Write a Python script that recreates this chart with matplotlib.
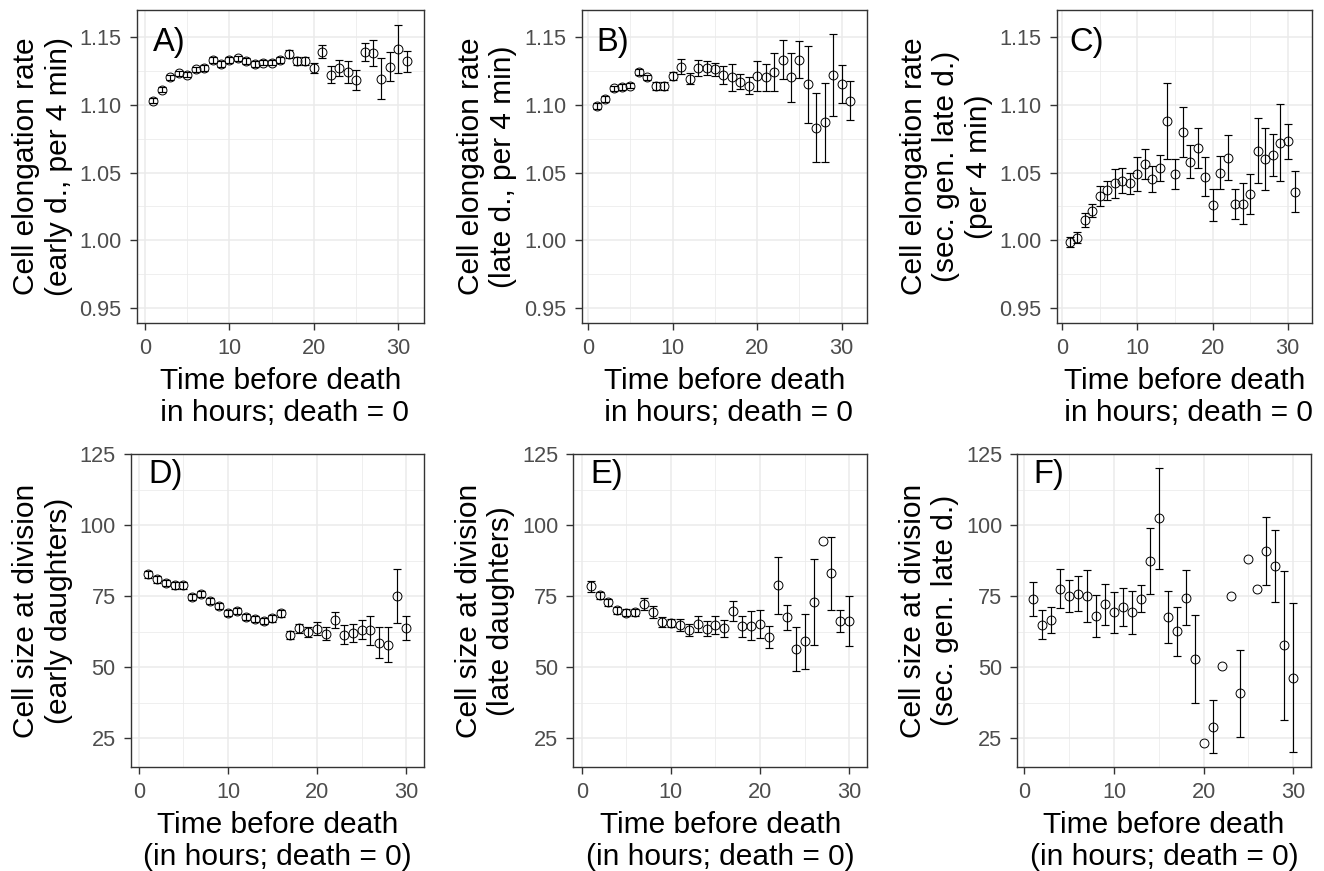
import matplotlib
matplotlib.use("Agg")
import matplotlib.pyplot as plt
from matplotlib.ticker import MultipleLocator, FormatStrFormatter

plt.rcParams["font.family"] = ["Liberation Sans", "DejaVu Sans"]

# ---- data: hours before death ----
hours_top = [1, 2, 3, 4, 5, 6, 7, 8, 9, 10, 11, 12, 13, 14, 15, 16,
             17, 18, 19, 20, 21, 22, 23, 24, 25, 26, 27, 28, 29, 30, 31]
hours_bot = [1, 2, 3, 4, 5, 6, 7, 8, 9, 10, 11, 12, 13, 14, 15,
             16, 17, 18, 19, 20, 21, 22, 23, 24, 25, 26, 27, 28, 29, 30]

# A) elongation rate, early daughters
rate_early = [1.103, 1.111, 1.120, 1.123, 1.122, 1.126, 1.127, 1.133, 1.130, 1.133,
              1.134, 1.132, 1.130, 1.131, 1.131, 1.133, 1.137, 1.132, 1.132, 1.127,
              1.139, 1.122, 1.127, 1.124, 1.118, 1.139, 1.138, 1.119, 1.128, 1.141, 1.132]
rate_early_se = [0.002, 0.002, 0.002, 0.002, 0.002, 0.002, 0.002, 0.002, 0.002, 0.002,
                 0.002, 0.002, 0.002, 0.002, 0.002, 0.002, 0.003, 0.003, 0.003, 0.004,
                 0.005, 0.0064, 0.006, 0.0078, 0.0072, 0.0067, 0.0094, 0.0152, 0.0106, 0.0176, 0.0077]

# B) elongation rate, late daughters
rate_late = [1.099, 1.104, 1.112, 1.113, 1.114, 1.124, 1.120, 1.114, 1.114, 1.121,
             1.128, 1.119, 1.127, 1.127, 1.126, 1.122, 1.120, 1.117, 1.114, 1.121,
             1.120, 1.124, 1.133, 1.120, 1.133, 1.115, 1.083, 1.087, 1.122, 1.115, 1.103]
rate_late_se = [0.002, 0.002, 0.002, 0.002, 0.002, 0.002, 0.002, 0.003, 0.003, 0.003,
                0.0055, 0.004, 0.006, 0.0055, 0.005, 0.0068, 0.0098, 0.0057, 0.006, 0.011,
                0.0098, 0.0137, 0.0144, 0.018, 0.0137, 0.0285, 0.0254, 0.029, 0.030, 0.014, 0.0144]

# C) elongation rate, second generation late daughters
rate_sec = [0.999, 1.002, 1.015, 1.022, 1.033, 1.037, 1.042, 1.044, 1.042, 1.049,
            1.056, 1.045, 1.053, 1.088, 1.049, 1.080, 1.058, 1.068, 1.047, 1.026,
            1.050, 1.061, 1.027, 1.027, 1.034, 1.066, 1.060, 1.063, 1.072, 1.073, 1.036]
rate_sec_se = [0.0037, 0.0042, 0.005, 0.005, 0.0074, 0.007, 0.0104, 0.0091, 0.008, 0.0126,
               0.011, 0.0096, 0.0096, 0.028, 0.0108, 0.0185, 0.0123, 0.015, 0.0144, 0.0117,
               0.012, 0.0168, 0.0112, 0.015, 0.0148, 0.0238, 0.0228, 0.0153, 0.0283, 0.0129, 0.0148]

# D) size at division, early daughters
size_early = [82.7, 80.9, 79.7, 78.8, 78.8, 74.8, 75.9, 73.2, 71.5, 69.1,
              69.9, 67.7, 66.9, 66.2, 67.3, 69.0, 61.5, 63.7, 62.4, 63.6,
              61.8, 66.5, 61.5, 62.0, 63.2, 63.0, 58.7, 57.9, 75.2, 63.8]
size_early_se = [1.2, 1.1, 1.1, 1.1, 1.1, 1.1, 1.1, 1.1, 1.1, 1.1,
                 1.1, 1.1, 1.1, 1.1, 1.2, 1.3, 1.4, 1.5, 1.6, 2.2,
                 2.2, 2.8, 3.2, 3.2, 3.4, 5.0, 5.4, 6.1, 9.5, 4.1]

# E) size at division, late daughters
size_late = [78.5, 75.4, 72.9, 70.1, 69.2, 69.3, 72.3, 69.6, 65.8, 65.6,
             65.0, 63.2, 65.3, 63.6, 65.0, 63.7, 69.7, 64.4, 64.6, 65.3,
             60.6, 78.8, 67.6, 56.4, 59.1, 72.9, 94.6, 83.0, 66.2, 66.2]
size_late_se = [1.9, 1.2, 1.2, 1.2, 1.2, 1.3, 2.2, 2.1, 1.8, 1.5,
                2.1, 2.2, 2.9, 2.6, 3.2, 3.1, 3.5, 3.7, 5.1, 5.0,
                3.8, 10.0, 4.4, 7.7, 9.8, 15.2, 0.0, 13.0, 3.9, 8.8]

# F) size at division, second generation late daughters
size_sec = [74.1, 65.0, 66.5, 77.6, 75.0, 75.9, 75.0, 68.2, 72.1, 69.3,
            71.2, 69.3, 74.1, 87.4, 102.4, 67.7, 62.6, 74.4, 52.9, 23.5,
            29.1, 50.3, 75.2, 40.8, 88.2, 77.6, 90.9, 85.6, 57.7, 46.4]
size_sec_se = [5.9, 5.2, 4.6, 6.9, 5.6, 6.2, 9.1, 7.4, 7.2, 7.3,
               6.8, 7.7, 4.8, 11.6, 17.7, 9.1, 8.5, 9.7, 15.6, 0.0,
               9.3, 0.0, 0.0, 15.2, 0.0, 0.0, 12.1, 12.7, 26.1, 26.1]

ylab_top = ["Cell elongation rate\n(early d., per 4 min)",
            "Cell elongation rate\n(late d., per 4 min)",
            "Cell elongation rate\n(sec. gen. late d.)\n(per 4 min)"]
ylab_bot = ["Cell size at division\n(early daughters)",
            "Cell size at division\n(late daughters)",
            "Cell size at division\n(sec. gen. late d.)"]
xlab_top = "Time before death\n in hours; death = 0"
xlab_bot = "Time before death\n(in hours; death = 0)"
panel_tags = ["A)", "B)", "C)", "D)", "E)", "F)"]

# ---- layout (pixels in the 1324x871 canvas) ----
W, H = 1324, 871
boxes_px = [
    (136.7, 10, 424, 322.7),
    (581.5, 10, 867, 322.7),
    (1056.7, 10, 1311.7, 322.7),
    (130.7, 454, 424, 767.3),
    (573.4, 454, 867.3, 767.3),
    (1017.3, 454, 1310.7, 767.3),
]
xlims = [(-0.98, 33.04), (-0.8, 33.0), (-0.75, 33.2),
         (-0.93, 32.02), (-0.93, 32.02), (-0.78, 31.94)]

grey20 = "#333333"
grey30 = "#4D4D4D"
gridc = "#EBEBEB"
title_fs = 21.5
tick_fs = 15.7

fig = plt.figure(figsize=(W / 100, H / 100), dpi=100)

series = [
    (hours_top, rate_early, rate_early_se),
    (hours_top, rate_late, rate_late_se),
    (hours_top, rate_sec, rate_sec_se),
    (hours_bot, size_early, size_early_se),
    (hours_bot, size_late, size_late_se),
    (hours_bot, size_sec, size_sec_se),
]

for i, (x, y, se) in enumerate(series):
    l, t, r, b = boxes_px[i]
    ax = fig.add_axes([l / W, 1 - b / H, (r - l) / W, (b - t) / H])
    top = i < 3

    # error bars only where a spread exists
    xe = [xx for xx, s in zip(x, se) if s > 0]
    ye = [yy for yy, s in zip(y, se) if s > 0]
    se_e = [s for s in se if s > 0]
    ax.errorbar(xe, ye, yerr=se_e, fmt="none", ecolor="black",
                elinewidth=0.85, capsize=2.7, capthick=0.85, zorder=3)
    ax.plot(x, y, "o", mfc="none", mec="black", ms=6.4, mew=0.7, zorder=4)

    ax.set_xlim(*xlims[i])
    ax.xaxis.set_major_locator(MultipleLocator(10))
    ax.xaxis.set_minor_locator(MultipleLocator(5))
    if top:
        ax.set_ylim(0.9394, 1.1697)
        ax.yaxis.set_major_locator(MultipleLocator(0.05))
        ax.yaxis.set_minor_locator(MultipleLocator(0.025))
        ax.yaxis.set_major_formatter(FormatStrFormatter("%.2f"))
        ax.set_ylabel(ylab_top[i], fontsize=title_fs, labelpad=5)
        ax.set_xlabel(xlab_top, fontsize=title_fs, labelpad=6)
        ax.text(0.95, 1.1395, panel_tags[i], fontsize=23.5, ha="left", va="baseline")
    else:
        ax.set_ylim(14.8, 125.05)
        ax.yaxis.set_major_locator(MultipleLocator(25))
        ax.yaxis.set_minor_locator(MultipleLocator(12.5))
        ax.set_ylabel(ylab_bot[i - 3], fontsize=title_fs, labelpad=5)
        ax.set_xlabel(xlab_bot, fontsize=title_fs, labelpad=5.5)
        ax.text(1.0, 114.9, panel_tags[i], fontsize=23.5, ha="left", va="baseline")

    ax.grid(True, which="major", color=gridc, linewidth=1.1, zorder=0)
    ax.grid(True, which="minor", color=gridc, linewidth=0.55, zorder=0)
    ax.set_axisbelow(True)
    ax.tick_params(which="major", length=4.8, width=1.0, color=grey20,
                   labelsize=tick_fs, labelcolor=grey30, pad=6)
    ax.tick_params(which="minor", length=0)
    for sp in ax.spines.values():
        sp.set_color(grey20)
        sp.set_linewidth(1.0)

fig.savefig("out.png", dpi=100)
